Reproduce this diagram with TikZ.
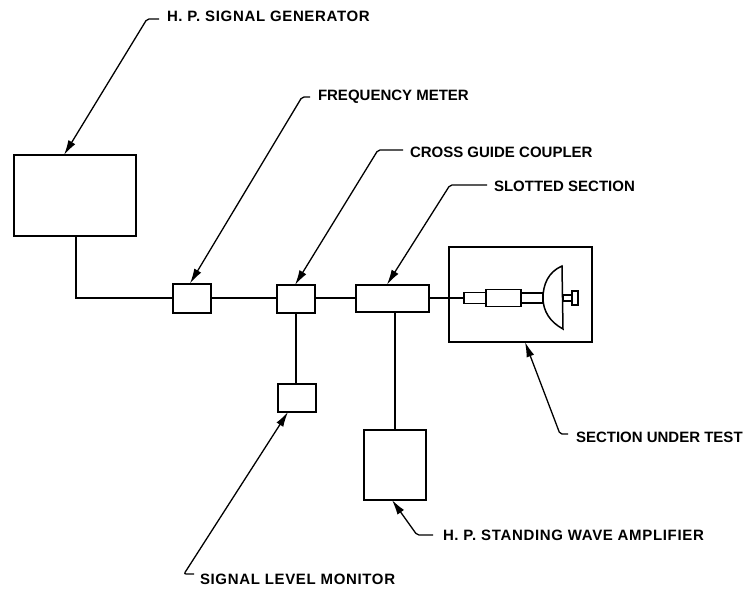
\documentclass[tikz,border=0pt]{standalone}
\usepackage{fontspec}
\setmainfont{Liberation Sans}
\newfontfamily\widefont[LetterSpace=4.4]{Liberation Sans}
\usetikzlibrary{arrows.meta, positioning}
\begin{document}
\begin{tikzpicture}[
      x=1pt, y=-1pt,
      unit/.style={
        rectangle, draw=black, fill=white, line width=2pt,
        inner sep=0pt, outer sep=0pt
      },
      part/.style={
        rectangle, draw=black, fill=white, line width=1.5pt,
        inner sep=0pt, outer sep=0pt
      },
      lbl/.style={
        anchor=west, inner sep=0pt, outer sep=0pt, text=black,
        font=\fontsize{15}{18}\selectfont\bfseries
      },
      widelbl/.style={
        lbl, font=\fontsize{15}{18}\selectfont\widefont\bfseries
      },
      guide/.style={line width=2pt, color=black},
      arr/.style={-{Latex[length=15pt,width=8pt]}, line width=1.3pt, color=black, rounded corners=2pt}
  ]
    \useasboundingbox (0,0) rectangle (748,592);

    % equipment
    \node[unit, minimum width=122pt, minimum height=81pt] (gen)  at (74.5,195.5) {};
    \node[unit, minimum width=38pt, minimum height=29pt]  (freq) at (192,298) {};
    \node[unit, minimum width=38pt, minimum height=28pt]  (coup) at (296,299) {};
    \node[unit, minimum width=73pt, minimum height=27pt]  (slot) at (392.5,298) {};
    \node[unit, minimum width=38pt, minimum height=28pt]  (mon)  at (297,398) {};
    \node[unit, minimum width=62pt, minimum height=70pt]  (amp)  at (395,465) {};
    \node[unit, minimum width=143pt, minimum height=95pt] (test) at (520.5,294.5) {};

    % section under test
    \node[part, minimum width=22pt, minimum height=11pt] (tube) at (475,298) {};
    \node[part, minimum width=35pt, minimum height=17pt] (body) at (503.5,298) {};
    \node[part, minimum width=22pt, minimum height=10pt] (neck) at (532,298) {};
    \node[part, minimum width=9pt, minimum height=6pt]   (stem) at (567.5,298) {};
    \node[part, minimum width=6pt, minimum height=14pt]  (knob) at (575,298) {};
    \coordinate (dishtop) at (562,266);
    \coordinate (dishbot) at (563,329);
    \draw[line width=1.5pt, fill=white] (dishtop) .. controls (548,272) and (543,285) .. (543,298)
      .. controls (543,311) and (550,322) .. (dishbot) -- cycle;

    % waveguide run
    \coordinate (bend) at ([xshift=1.5pt]gen.south |- freq.west);
    \draw[guide] ([xshift=1.5pt]gen.south) -- (bend) -- (freq.west);
    \draw[guide] (freq.east) -- (coup.west |- freq.east);
    \draw[guide] (coup.east |- slot.west) -- (slot.west);
    \draw[guide] (slot.east) -- (tube.west);
    \draw[guide] (coup.south) -- (mon.north -| coup.south);
    \draw[guide] (slot.south -| amp.north) -- (amp.north);

    % labels
    \node[widelbl] (lgen)  at (167,16)  {H. P. SIGNAL GENERATOR};
    \node[lbl]     (lfreq) at (318,97)  {FREQUENCY METER};
    \node[lbl]     (lcoup) at (410,152) {CROSS GUIDE COUPLER};
    \node[lbl]     (lslot) at (494,186) {SLOTTED SECTION};
    \node[lbl]     (ltest) at (576,437) {SECTION UNDER TEST};
    \node[widelbl] (lamp)  at (443,535) {H. P. STANDING WAVE AMPLIFIER};
    \node[widelbl] (lmon)  at (200,579) {SIGNAL LEVEL MONITOR};

    \coordinate (kgen)  at (147,19);
    \coordinate (kfreq) at (302,97);
    \coordinate (kcoup) at (378,150);
    \coordinate (kslot) at (450,185);
    \coordinate (ktest) at (560,434);
    \coordinate (kamp)  at (417,535);
    \coordinate (kmon)  at (184,574);

    % leaders
    \draw[arr] ([xshift=-8pt]lgen.west |- kgen)   -- (kgen)  -- ([xshift=-10.5pt]gen.north);
    \draw[arr] ([xshift=-8pt]lfreq.west |- kfreq) -- (kfreq) -- ([xshift=-2pt]freq.north);
    \draw[arr] ([xshift=-7pt]lcoup.west |- kcoup) -- (kcoup) -- ([xshift=-1pt]coup.north);
    \draw[arr] ([xshift=-7pt]lslot.west |- kslot) -- (kslot) -- ([xshift=-5.5pt]slot.north);
    \draw[arr] ([xshift=-8pt]ltest.west |- ktest) -- (ktest) -- ([xshift=4.5pt]test.south);
    \draw[arr] ([xshift=-10pt]lamp.west |- kamp)  -- (kamp)  -- ([xshift=-3pt]amp.south);
    \draw[arr] ([xshift=-6pt]lmon.west |- kmon)   -- (kmon)  -- ([xshift=-9pt]mon.south);
\end{tikzpicture}
\end{document}
